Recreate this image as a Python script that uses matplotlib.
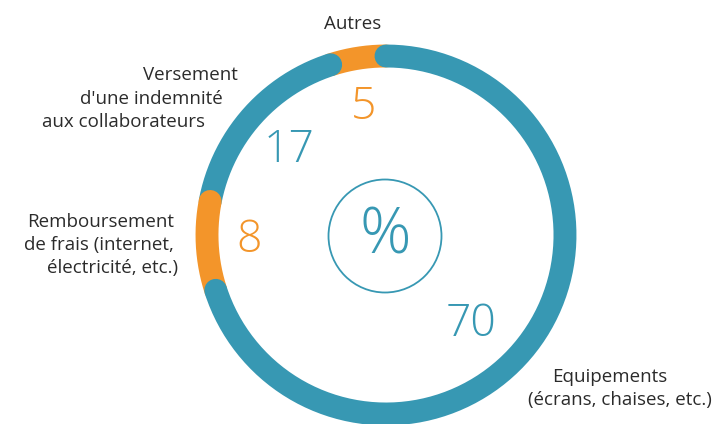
import matplotlib

matplotlib.use("Agg")
import matplotlib.pyplot as plt
import numpy as np

# data (percent), clockwise from 12 o'clock
categories = ["Equipements", "Remboursement", "Versement", "Autres"]
values = [70, 8, 17, 5]
value_labels = ["70", "8", "17", "5"]

TEAL = "#3798b3"
ORANGE = "#f3952a"
TEXT = "#2b2b2b"
colors = [TEAL, ORANGE, TEAL, ORANGE]
draw_order = [3, 2, 1, 0]

plt.rcParams["font.family"] = ["Open Sans", "DejaVu Sans"]

CX, CY, R = 386, 235, 179
RING_LW = 16.5

fig = plt.figure(figsize=(7.2, 4.24), dpi=100)
ax = fig.add_axes([0, 0, 1, 1])
ax.set_xlim(0, 720)
ax.set_ylim(424, 0)
ax.set_aspect("equal")
ax.axis("off")

total = sum(values)
bounds = 90 - np.cumsum([0] + values) / total * 360.0

for i in draw_order:
    th = np.radians(np.linspace(bounds[i], bounds[i + 1], 200))
    ax.plot(CX + R * np.cos(th), CY - R * np.sin(th), color=colors[i],
            lw=RING_LW, solid_capstyle="round")

# inner circle with the percent sign
ax.add_patch(plt.Circle((CX - 1, CY + 1), 56.5, fill=False, ec=TEAL, lw=1.3))
ax.text(CX - 1, CY + 2, "%", color=TEAL, fontsize=46, fontweight="light",
        ha="center", va="center")

# value numbers inside the ring
num_pos = [(471, 325), (249, 241), (289, 151), (364, 108)]
for (x, y), lab, col in zip(num_pos, value_labels, colors):
    ax.text(x, y, lab, color=col, fontsize=32, fontweight="light",
            ha="center", va="center")

# category labels
fs = 13.5
ax.text(353, 24, "Autres", color=TEXT, fontsize=fs, ha="center", va="center")
for y, x, line in [(75, 238, "Versement"), (99, 223, "d'une indemnité"),
                   (122, 205, "aux collaborateurs")]:
    ax.text(x, y, line, color=TEXT, fontsize=fs, ha="right", va="center")
for y, x, line in [(222, 174, "Remboursement"), (245, 174, "de frais (internet,"),
                   (268, 178, "électricité, etc.)")]:
    ax.text(x, y, line, color=TEXT, fontsize=fs, ha="right", va="center")
ax.text(610, 377, "Equipements", color=TEXT, fontsize=fs, ha="center", va="center")
ax.text(620, 400, "(écrans, chaises, etc.)", color=TEXT, fontsize=fs,
        ha="center", va="center")

fig.savefig("out.png", dpi=100)
